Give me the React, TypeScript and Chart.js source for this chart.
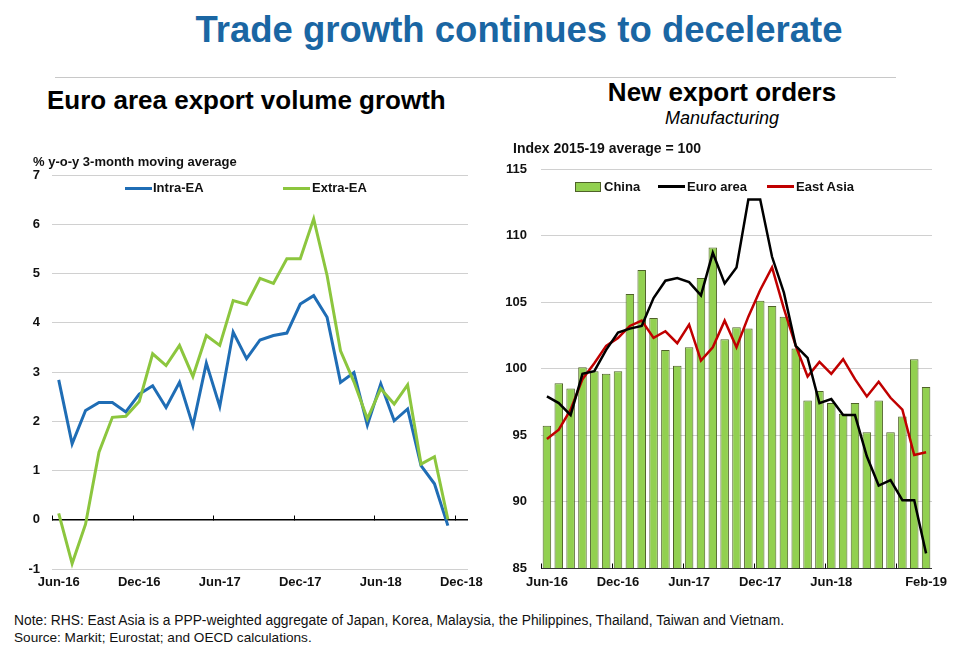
import React, { useEffect, useRef } from "react";
import { Chart, registerables } from "chart.js";

Chart.register(...registerables);

// ---------- Left chart data ----------
const leftLabels = [
  "Jun-16", "Jul-16", "Aug-16", "Sep-16", "Oct-16", "Nov-16",
  "Dec-16", "Jan-17", "Feb-17", "Mar-17", "Apr-17", "May-17",
  "Jun-17", "Jul-17", "Aug-17", "Sep-17", "Oct-17", "Nov-17",
  "Dec-17", "Jan-18", "Feb-18", "Mar-18", "Apr-18", "May-18",
  "Jun-18", "Jul-18", "Aug-18", "Sep-18", "Oct-18", "Nov-18",
  "Dec-18",
];
const intraEA = [
  2.84, 1.54, 2.22, 2.38, 2.38, 2.19, 2.55, 2.72, 2.28, 2.79, 1.91, 3.18,
  2.3, 3.81, 3.27, 3.65, 3.74, 3.79, 4.38, 4.55, 4.11, 2.79, 2.99, 1.92,
  2.76, 2.01, 2.25, 1.1, 0.73, -0.12,
];
const extraEA = [
  0.13, -0.89, -0.09, 1.37, 2.08, 2.1, 2.4, 3.37, 3.13, 3.54, 2.91, 3.74,
  3.54, 4.45, 4.37, 4.9, 4.8, 5.3, 5.3, 6.11, 4.96, 3.43, 2.8, 2.05,
  2.66, 2.35, 2.74, 1.13, 1.28, 0.01,
];
const leftYMin = -1;
const leftYMax = 7;

// ---------- Right chart data ----------
const rightLabels = [
  "Jun-16", "Jul-16", "Aug-16", "Sep-16", "Oct-16", "Nov-16",
  "Dec-16", "Jan-17", "Feb-17", "Mar-17", "Apr-17", "May-17",
  "Jun-17", "Jul-17", "Aug-17", "Sep-17", "Oct-17", "Nov-17",
  "Dec-17", "Jan-18", "Feb-18", "Mar-18", "Apr-18", "May-18",
  "Jun-18", "Jul-18", "Aug-18", "Sep-18", "Oct-18", "Nov-18",
  "Dec-18", "Jan-19", "Feb-19",
];
const rightShownLabels = ["Jun-16", "Dec-16", "Jun-17", "Dec-17", "Jun-18", "Feb-19"];
const leftShownLabels = ["Jun-16", "Dec-16", "Jun-17", "Dec-17", "Jun-18", "Dec-18"];
const china = [
  95.7, 98.9, 98.5, 100.1, 99.8, 99.6, 99.8, 105.6, 107.4, 103.8, 101.4,
  100.2, 101.6, 106.8, 109.1, 102.2, 103.1, 103.0, 105.1, 104.7, 103.9,
  101.5, 97.6, 98.3, 97.4, 96.6, 97.4, 95.2, 97.6, 95.2, 96.4, 100.7, 98.6,
];
const euroArea = [
  97.9, 97.4, 96.5, 99.6, 99.8, 101.4, 102.7, 103.0, 103.2, 105.3, 106.6,
  106.8, 106.5, 105.5, 108.7, 106.4, 107.6, 112.7, 112.7, 108.4, 105.7,
  101.7, 100.8, 97.4, 97.7, 96.5, 96.5, 93.4, 91.2, 91.6, 90.1, 90.1, 86.1,
];
const eastAsia = [
  94.7, 95.4, 96.9, 99.2, 100.4, 101.7, 102.3, 103.2, 103.6, 102.3, 102.8,
  101.9, 103.3, 100.6, 101.6, 103.6, 101.6, 103.9, 105.9, 107.6, 104.5,
  101.7, 99.4, 100.5, 99.6, 100.7, 99.2, 97.9, 99.0, 97.8, 96.9, 93.5, 93.7,
];
const rightYMin = 85;
const rightYMax = 115;

const FONT = "'Liberation Sans', Arial, sans-serif";
const GRID = "#d0d0d0";

// small upward tick marks at the 6-month category boundaries
const boundaryTicks = {
  id: "boundaryTicks",
  beforeDatasetsDraw(chart: any, _args: any, opts: any) {
    const xs = chart.scales.x;
    const ys = chart.scales.y;
    const n = chart.data.labels.length;
    const w = (xs.right - xs.left) / n;
    const base = Math.round(ys.getPixelForValue(opts.base)) + 0.5;
    const ctx = chart.ctx;
    ctx.save();
    ctx.strokeStyle = "#000";
    ctx.lineWidth = 1;
    ctx.beginPath();
    for (let i = 0; i < n; i += 6) {
      const px = Math.round(xs.getPixelForValue(i) - w / 2) + 0.5;
      ctx.moveTo(px, base);
      ctx.lineTo(px, base - 5);
    }
    ctx.stroke();
    ctx.restore();
  },
};

function LeftChart() {
  const ref = useRef<HTMLCanvasElement>(null);
  useEffect(() => {
    const chart = new Chart(ref.current as HTMLCanvasElement, {
      type: "line",
      data: {
        labels: leftLabels,
        datasets: [
          {
            label: "Extra-EA",
            data: extraEA,
            borderColor: "#8cc63e",
            borderWidth: 3,
            pointRadius: 0,
            tension: 0,
          },
          {
            label: "Intra-EA",
            data: intraEA,
            borderColor: "#1f6db5",
            borderWidth: 3,
            pointRadius: 0,
            tension: 0,
          },
        ],
      },
      options: {
        responsive: false,
        animation: false,
        layout: { padding: { left: 0, right: 22, top: 25, bottom: 0 } },
        plugins: {
          legend: { display: false },
          tooltip: { enabled: false },
          boundaryTicks: { base: 0 },
        } as any,
        scales: {
          x: {
            type: "category",
            offset: true,
            grid: { display: false, drawTicks: false },
            border: { display: false },
            afterFit: (s: any) => {
              s.height = 31;
            },
            ticks: {
              autoSkip: false,
              maxRotation: 0,
              padding: 6,
              color: "#111",
              font: { family: FONT, size: 13, weight: "bold" },
              callback: (_v: any, i: number) =>
                leftShownLabels.includes(leftLabels[i]) ? leftLabels[i] : "",
            },
          },
          y: {
            min: leftYMin,
            max: leftYMax,
            afterFit: (s: any) => {
              s.width = 52;
            },
            grid: {
              drawTicks: false,
              color: (c: any) => (c.tick && c.tick.value === 0 ? "#000" : GRID),
              lineWidth: (c: any) => (c.tick && c.tick.value === 0 ? 1.5 : 1),
            },
            border: { display: false },
            ticks: {
              stepSize: 1,
              padding: 12,
              color: "#111",
              font: { family: FONT, size: 13, weight: "bold" },
            },
          },
        },
      },
      plugins: [boundaryTicks],
    });
    return () => chart.destroy();
  }, []);
  return <canvas ref={ref} width={490} height={450} style={{ display: "block" }} />;
}

function RightChart() {
  const ref = useRef<HTMLCanvasElement>(null);
  useEffect(() => {
    const chart = new Chart(ref.current as HTMLCanvasElement, {
      type: "bar",
      data: {
        labels: rightLabels,
        datasets: [
          {
            type: "line",
            label: "Euro area",
            data: euroArea,
            borderColor: "#000000",
            borderWidth: 2.5,
            pointRadius: 0,
            tension: 0,
            order: 0,
          } as any,
          {
            type: "line",
            label: "East Asia",
            data: eastAsia,
            borderColor: "#c00000",
            borderWidth: 2.5,
            pointRadius: 0,
            tension: 0,
            order: 1,
          } as any,
          {
            type: "bar",
            label: "China",
            data: china,
            backgroundColor: "#92d050",
            borderColor: "#4f6228",
            borderWidth: 1,
            categoryPercentage: 0.8,
            barPercentage: 0.9,
            order: 2,
          },
        ],
      },
      options: {
        responsive: false,
        animation: false,
        layout: { padding: { left: 0, right: 28, top: 29, bottom: 0 } },
        plugins: {
          legend: { display: false },
          tooltip: { enabled: false },
          boundaryTicks: { base: rightYMin },
        } as any,
        scales: {
          x: {
            type: "category",
            offset: true,
            grid: { display: false, drawTicks: false },
            border: { display: false },
            afterFit: (s: any) => {
              s.height = 32;
            },
            ticks: {
              autoSkip: false,
              maxRotation: 0,
              padding: 7,
              color: "#111",
              font: { family: FONT, size: 13, weight: "bold" },
              callback: (_v: any, i: number) =>
                rightShownLabels.includes(rightLabels[i]) ? rightLabels[i] : "",
            },
          },
          y: {
            min: rightYMin,
            max: rightYMax,
            afterFit: (s: any) => {
              s.width = 51;
            },
            grid: {
              drawTicks: false,
              color: (c: any) => (c.tick && c.tick.value === rightYMin ? "#333" : GRID),
            },
            border: { display: false },
            ticks: {
              stepSize: 5,
              padding: 14,
              color: "#111",
              font: { family: FONT, size: 13, weight: "bold" },
            },
          },
        },
      },
      plugins: [boundaryTicks],
    });
    return () => chart.destroy();
  }, []);
  return <canvas ref={ref} width={470} height={460} style={{ display: "block" }} />;
}

const abs = (left: number, top: number, extra: any = {}) => ({
  position: "absolute" as const,
  left,
  top,
  whiteSpace: "nowrap" as const,
  lineHeight: 1,
  fontFamily: FONT,
  ...extra,
});

function LegendLine({ x, y, color }: { x: number; y: number; color: string }) {
  return <div style={{ position: "absolute", left: x, top: y - 1.5, width: 27, height: 3, background: color }} />;
}

const small = { fontSize: 13, fontWeight: "bold", color: "#111" };

export default function App() {
  return (
    <div
      style={{
        position: "absolute",
        left: 0,
        top: 0,
        width: 960,
        height: 660,
        background: "#fff",
        overflow: "hidden",
        fontFamily: FONT,
        color: "#000",
      }}
    >
      <div style={abs(519, 12, { fontSize: 36.5, fontWeight: "bold", color: "#1a66a3", transform: "translateX(-50%)" })}>
        Trade growth continues to decelerate
      </div>
      <div style={{ position: "absolute", left: 55, top: 77, width: 841, height: 1, background: "#c8c8c8" }} />

      <div style={abs(47, 87, { fontSize: 26, fontWeight: "bold" })}>Euro area export volume growth</div>
      <div style={abs(722, 79, { fontSize: 26, fontWeight: "bold", transform: "translateX(-50%)" })}>New export orders</div>
      <div style={abs(722, 109, { fontSize: 18, fontStyle: "italic", transform: "translateX(-50%)" })}>Manufacturing</div>

      <div style={{ position: "absolute", left: 0, top: 150 }}>
        <LeftChart />
      </div>
      <div style={{ position: "absolute", left: 490, top: 140 }}>
        <RightChart />
      </div>

      <div style={abs(33, 155, small)}>% y-o-y 3-month moving average</div>
      <LegendLine x={125} y={188} color="#1f6db5" />
      <div style={abs(153, 181, small)}>Intra-EA</div>
      <LegendLine x={283} y={188} color="#8cc63e" />
      <div style={abs(312, 181, small)}>Extra-EA</div>

      <div style={abs(513, 141, { ...small, fontSize: 14 })}>Index 2015-19 average = 100</div>
      <div style={{ position: "absolute", left: 575, top: 182, width: 24, height: 8, background: "#92d050", border: "1px solid #4f6228" }} />
      <div style={abs(604, 180, small)}>China</div>
      <LegendLine x={658} y={186.5} color="#000" />
      <div style={abs(687, 180, small)}>Euro area</div>
      <LegendLine x={767} y={186.5} color="#c00000" />
      <div style={abs(796, 180, small)}>East Asia</div>

      <div style={abs(14, 614, { fontSize: 13.8, color: "#111" })}>
        Note: RHS: East Asia is a PPP-weighted aggregate of Japan, Korea, Malaysia, the Philippines, Thailand, Taiwan and Vietnam.
      </div>
      <div style={abs(14, 631, { fontSize: 13.6, color: "#111" })}>Source: Markit; Eurostat; and OECD calculations.</div>
    </div>
  );
}
